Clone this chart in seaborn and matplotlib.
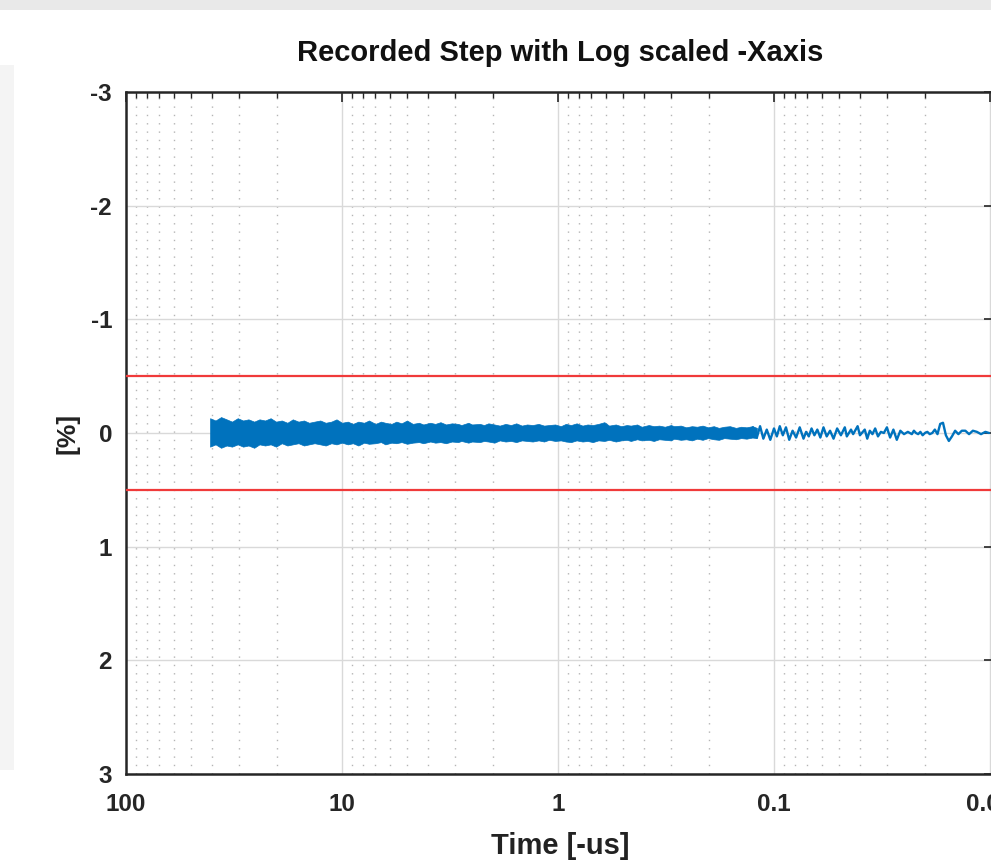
import numpy as np
import pandas as pd
import seaborn as sns
import matplotlib.pyplot as plt
from matplotlib.patches import Rectangle
from matplotlib.ticker import LogLocator, NullFormatter, FixedLocator, FixedFormatter

# dense part of the recording, read as an envelope (time in us, min / max in %)
band_time = [40.8, 38.5, 36.3, 34.2, 32.3, 30.4, 28.7, 27.1, 25.5, 24.1,
             22.7, 21.4, 20.2, 19.0, 17.9, 16.9, 15.9, 15.0, 14.2, 13.4,
             12.6, 11.9, 11.2, 10.6, 10.0, 9.4, 8.9, 8.4, 7.9, 7.5,
             7.0, 6.6, 6.3, 5.9, 5.6, 5.3, 5.0, 4.7, 4.4, 4.2,
             3.9, 3.7, 3.5, 3.3, 3.1, 2.9, 2.8, 2.6, 2.5, 2.3,
             2.2, 2.1, 1.97, 1.86, 1.75, 1.65, 1.56, 1.47, 1.39, 1.31,
             1.23, 1.16, 1.10, 1.03, 0.97, 0.92, 0.87, 0.82, 0.77, 0.73,
             0.69, 0.65, 0.61, 0.58, 0.54, 0.51, 0.48, 0.46, 0.43, 0.41,
             0.38, 0.36, 0.34, 0.32, 0.30, 0.29, 0.27, 0.255, 0.24, 0.227,
             0.214, 0.202, 0.19, 0.18, 0.17, 0.16, 0.15, 0.142, 0.134, 0.126, 0.12]
band_min = [-0.13, -0.11, -0.14, -0.12, -0.10, -0.13, -0.11, -0.12, -0.10, -0.12,
            -0.11, -0.13, -0.10, -0.11, -0.09, -0.12, -0.10, -0.11, -0.09, -0.10,
            -0.11, -0.09, -0.10, -0.12, -0.09, -0.10, -0.08, -0.10, -0.09, -0.11,
            -0.08, -0.10, -0.09, -0.08, -0.10, -0.085, -0.11, -0.08, -0.09, -0.075,
            -0.09, -0.08, -0.095, -0.075, -0.085, -0.08, -0.07, -0.09, -0.075, -0.08,
            -0.07, -0.085, -0.075, -0.065, -0.08, -0.07, -0.085, -0.065, -0.075, -0.07,
            -0.08, -0.065, -0.07, -0.075, -0.06, -0.08, -0.07, -0.085, -0.065, -0.075,
            -0.07, -0.08, -0.095, -0.065, -0.075, -0.06, -0.07, -0.065, -0.075, -0.055,
            -0.07, -0.06, -0.065, -0.055, -0.07, -0.06, -0.065, -0.05, -0.06, -0.055,
            -0.065, -0.05, -0.06, -0.045, -0.055, -0.06, -0.045, -0.055, -0.05, -0.06, -0.045]
band_max = [0.12, 0.10, 0.13, 0.11, 0.12, 0.10, 0.12, 0.11, 0.13, 0.10,
            0.11, 0.10, 0.12, 0.09, 0.11, 0.10, 0.09, 0.11, 0.10, 0.09,
            0.10, 0.11, 0.09, 0.10, 0.085, 0.10, 0.09, 0.11, 0.085, 0.095,
            0.09, 0.08, 0.10, 0.085, 0.09, 0.08, 0.095, 0.085, 0.08, 0.09,
            0.075, 0.085, 0.08, 0.09, 0.075, 0.08, 0.07, 0.085, 0.075, 0.08,
            0.07, 0.075, 0.085, 0.065, 0.075, 0.07, 0.08, 0.065, 0.07, 0.075,
            0.065, 0.075, 0.06, 0.07, 0.065, 0.075, 0.08, 0.065, 0.075, 0.07,
            0.08, 0.065, 0.07, 0.06, 0.075, 0.065, 0.06, 0.07, 0.055, 0.065,
            0.06, 0.07, 0.055, 0.06, 0.065, 0.05, 0.06, 0.055, 0.065, 0.05,
            0.06, 0.045, 0.055, 0.06, 0.045, 0.05, 0.055, 0.045, 0.05, 0.04, 0.045]

# sparse tail of the recording
tail_time = [0.13, 0.125, 0.12, 0.116, 0.112, 0.108, 0.104, 0.1, 0.097, 0.094, 0.091,
             0.088, 0.085, 0.082, 0.079, 0.076, 0.073, 0.071, 0.069, 0.067, 0.065, 0.063,
             0.061, 0.059, 0.057, 0.055, 0.053, 0.051, 0.049, 0.047, 0.046, 0.044, 0.043,
             0.041, 0.04, 0.038, 0.037, 0.036, 0.035, 0.034, 0.033, 0.032, 0.031, 0.030,
             0.029, 0.028, 0.027, 0.026, 0.025, 0.024, 0.0235, 0.023, 0.0225, 0.022,
             0.0215, 0.021, 0.0205, 0.02, 0.0195, 0.019, 0.0185, 0.018, 0.0175, 0.017,
             0.0165, 0.016, 0.0155, 0.015, 0.0145, 0.014, 0.0135, 0.013, 0.0125, 0.012,
             0.0115, 0.011, 0.0105, 0.0101]
tail_value = [0.02, -0.05, 0.04, -0.06, 0.05, -0.03, 0.06, -0.04, 0.03, -0.06, 0.02,
              -0.05, 0.06, -0.02, 0.04, -0.05, 0.05, -0.01, 0.03, -0.04, 0.02, -0.03,
              0.04, -0.05, 0.03, -0.02, 0.05, -0.04, 0.02, -0.05, 0.03, -0.03, 0.01,
              -0.06, 0.02, -0.03, 0.05, -0.02, 0.01, -0.04, 0.03, -0.01, 0.00, -0.05,
              0.04, -0.03, 0.06, -0.02, 0.01, -0.01, 0.00, 0.01, -0.02, 0.00,
              0.01, -0.01, 0.02, 0.00, -0.01, 0.01, 0.00, -0.03, 0.01, -0.08,
              -0.09, 0.02, 0.07, 0.03, -0.02, 0.01, -0.02, -0.02, 0.01, -0.02,
              -0.01, 0.01, -0.01, 0.00]

limits = [-0.5, 0.5]
x_ticks = [100, 10, 1, 0.1, 0.01]
x_labels = ['100', '10', '1', '0.1', '0.01']
y_ticks = [-3, -2, -1, 0, 1, 2, 3]

blue = '#0072BD'

sns.set_style('white')
plt.rcParams['font.family'] = ['Liberation Sans', 'DejaVu Sans']
plt.rcParams['font.weight'] = 'bold'

fig = plt.figure(figsize=(9.91, 8.65), dpi=100)
# window frame remnants of the screenshot
fig.add_artist(Rectangle((0, 1 - 10 / 865), 1, 10 / 865, transform=fig.transFigure,
                         color='#e9e9e9', lw=0, zorder=0))
fig.add_artist(Rectangle((0, 1 - 770 / 865), 14 / 991, 705 / 865, transform=fig.transFigure,
                         color='#f4f4f4', lw=0, zorder=0))

# axes runs a little past the right border of the screenshot
ax = fig.add_axes([126 / 991, 1 - 774 / 865, 868 / 991, 682 / 865])

ax.fill_between(band_time, band_min, band_max, color=blue, lw=0.5, edgecolor=blue, zorder=3)
tail = pd.DataFrame({'t': tail_time, 'v': tail_value})
sns.lineplot(data=tail, x='t', y='v', ax=ax, color=blue, lw=1.7, sort=False,
             estimator=None, zorder=3)
for lim in limits:
    ax.axhline(lim, color='#f03a3a', lw=1.6, zorder=4)

ax.set_xscale('log')
ax.set_xlim(100, 0.00958)
ax.set_ylim(3, -3)
ax.xaxis.set_major_locator(FixedLocator(x_ticks))
ax.xaxis.set_major_formatter(FixedFormatter(x_labels))
ax.xaxis.set_minor_locator(LogLocator(base=10, subs=np.arange(2, 10)))
ax.xaxis.set_minor_formatter(NullFormatter())
ax.set_yticks(y_ticks)
ax.set_yticklabels([str(v) for v in y_ticks])

ax.grid(True, which='major', color='#d9d9d9', lw=1.0)
ax.grid(True, which='minor', axis='x', color='#b5b5b5', lw=1.0, ls=(0, (1, 5)))
ax.set_axisbelow(True)

ax.tick_params(which='both', direction='in', top=True, right=True, labelsize=17.5,
               colors='#262626', labelcolor='#262626')
ax.tick_params(which='major', length=7, width=1.2)
ax.tick_params(which='minor', length=4, width=1.0)
ax.tick_params(axis='x', which='major', pad=14)
ax.tick_params(axis='y', which='major', pad=10)
for s in ax.spines.values():
    s.set_color('#262626')
    s.set_linewidth(1.8)

ax.set_title('Recorded Step with Log scaled -Xaxis', fontsize=21, fontweight='bold',
             color='#111111', pad=22)
ax.set_xlabel('Time [-us]', fontsize=21, fontweight='bold', color='#222222', labelpad=11)
ax.set_ylabel('[%]', fontsize=19, fontweight='bold', color='#222222', labelpad=8)

fig.savefig('out.png', dpi=100)
